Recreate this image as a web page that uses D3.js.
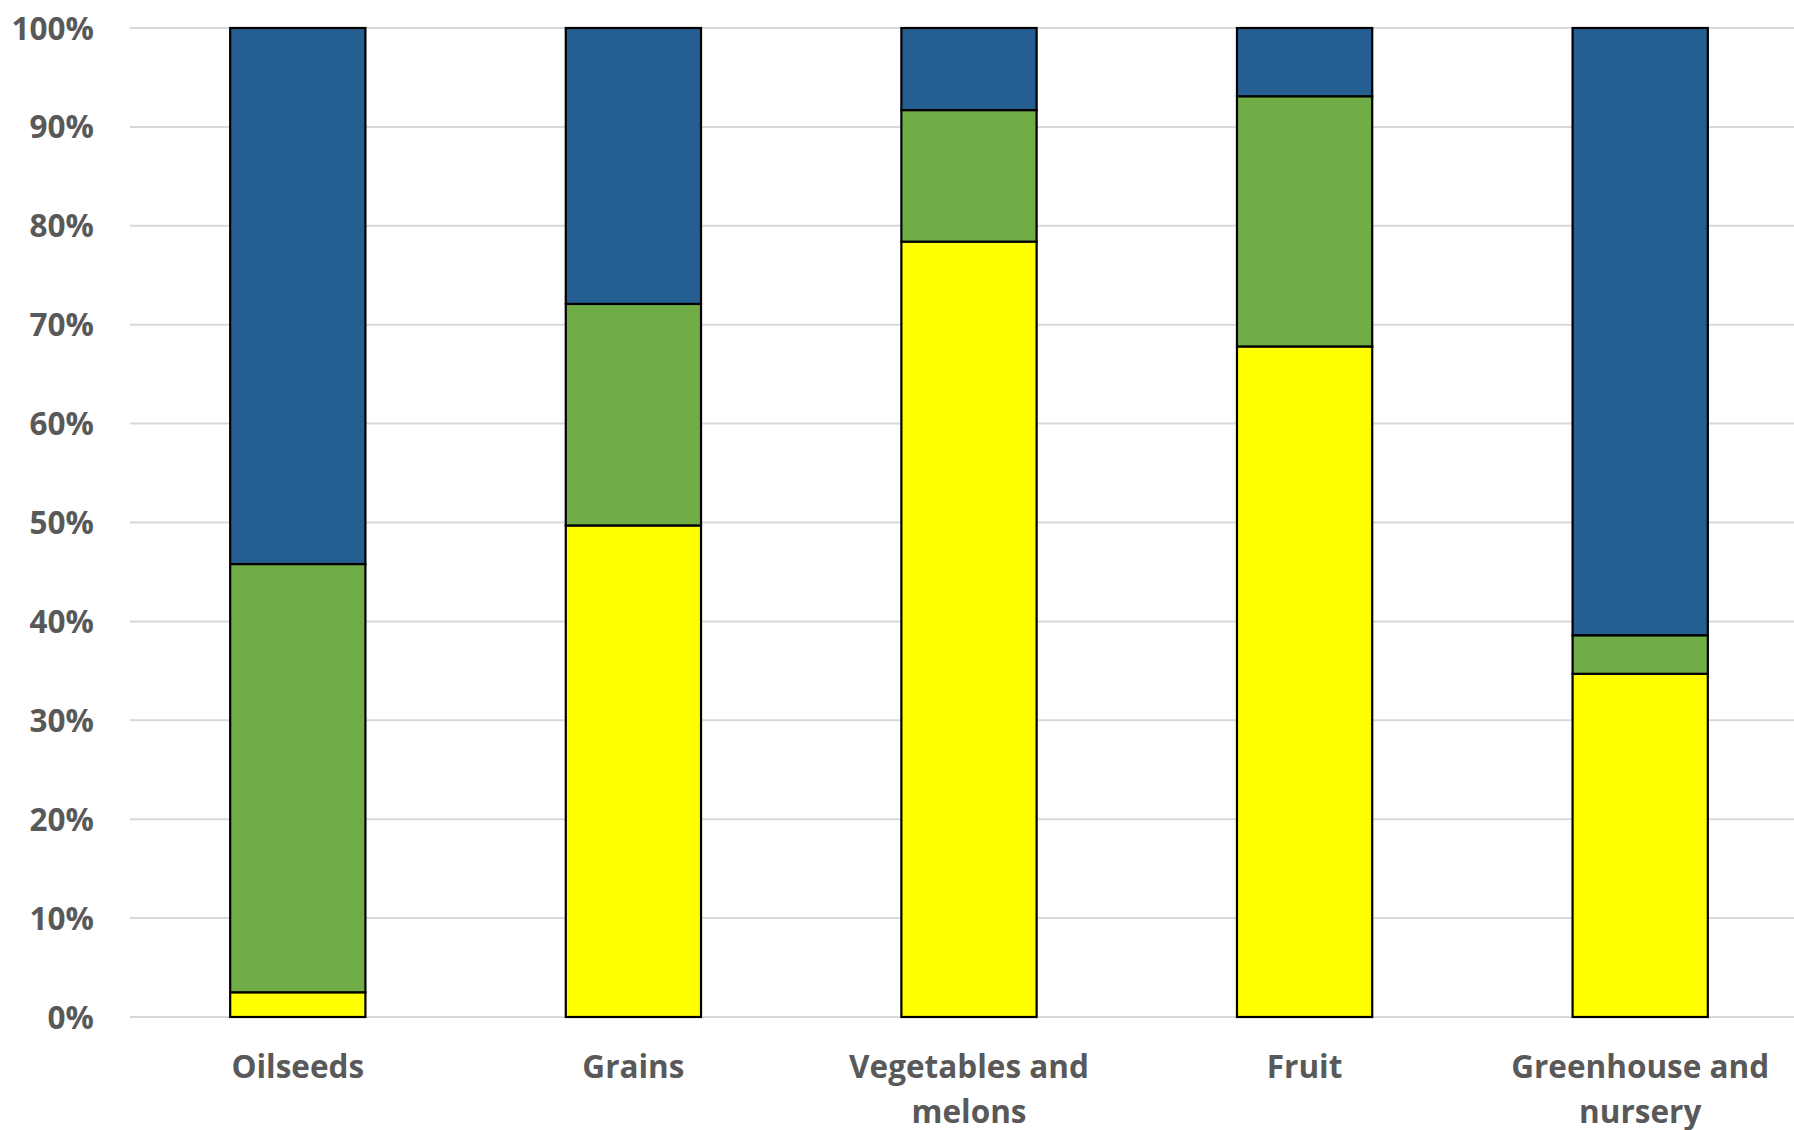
<!DOCTYPE html>
<html>
<head>
<meta charset="utf-8">
<script src="https://cdn.jsdelivr.net/npm/d3@7"></script>
<style>
  html, body { margin: 0; padding: 0; background: #fff; overflow: hidden; }
  svg { display: block; }
  text { font-family: "Open Sans", "DejaVu Sans", sans-serif; font-weight: 700; fill: #595959; }
</style>
</head>
<body>
<svg id="chart" width="1794" height="1130"></svg>
<script>
// Crop categories (each line of a label is a separate entry)
const categories = ["Oilseeds", "Grains", "Vegetables and melons", "Fruit", "Greenhouse and nursery"];
const categoryLines = [["Oilseeds"], ["Grains"], ["Vegetables and", "melons"], ["Fruit"], ["Greenhouse and", "nursery"]];

// Share of each crop group (percent), stacked bottom to top
const seriesNames = ["Yellow", "Green", "Blue"];
const yellowShare = [2.5, 49.7, 78.4, 67.8, 34.7];
const greenShare  = [43.3, 22.4, 13.3, 25.3, 3.9];
const blueShare   = [54.2, 27.9, 8.3, 6.9, 61.4];

const yTicks = [0, 10, 20, 30, 40, 50, 60, 70, 80, 90, 100];
const colors = ["#FFFF00", "#70AD47", "#255E91"];

const svg = d3.select("#chart");
const margin = { left: 130, right: -14, top: 28, bottom: 113 };
const W = 1794, H = 1130;

const x = d3.scaleBand()
  .domain(categories)
  .range([margin.left, W - margin.right])
  .padding(0);
const barW = x.bandwidth() * 0.403;

const y = d3.scaleLinear()
  .domain([0, 100])
  .range([H - margin.bottom, margin.top]);

// Gridlines
svg.append("g")
  .selectAll("line")
  .data(yTicks)
  .join("line")
  .attr("x1", margin.left)
  .attr("x2", W - margin.right)
  .attr("y1", d => y(d))
  .attr("y2", d => y(d))
  .attr("stroke", "#d9d9d9")
  .attr("stroke-width", 2);

// Y axis labels
const yAxis = d3.axisLeft(y).tickValues(yTicks).tickFormat(d => d + "%").tickSize(0).tickPadding(0);
const yg = svg.append("g").attr("transform", `translate(${margin.left - 36},0)`).call(yAxis);
yg.select(".domain").remove();
yg.selectAll("text")
  .attr("font-size", 31.5)
  .attr("font-family", null)
  .attr("fill", "#595959")
  .attr("dy", "0.35em");

// Stacked bars
const rows = categories.map((c, i) => ({
  cat: c, Yellow: yellowShare[i], Green: greenShare[i], Blue: blueShare[i]
}));
const stacked = d3.stack().keys(seriesNames)(rows);

svg.append("g")
  .selectAll("g")
  .data(stacked)
  .join("g")
  .attr("fill", (d, i) => colors[i])
  .selectAll("rect")
  .data(d => d)
  .join("rect")
  .attr("x", d => x(d.data.cat) + (x.bandwidth() - barW) / 2)
  .attr("width", barW)
  .attr("y", d => y(d[1]))
  .attr("height", d => y(d[0]) - y(d[1]))
  .attr("stroke", "#000")
  .attr("stroke-width", 2.2);

// Category labels
const labels = svg.append("g")
  .selectAll("text")
  .data(categories)
  .join("text")
  .attr("x", d => x(d) + x.bandwidth() / 2)
  .attr("y", 1078)
  .attr("text-anchor", "middle")
  .attr("font-size", 31.5);
labels.each(function(d, i) {
  d3.select(this).selectAll("tspan")
    .data(categoryLines[i])
    .join("tspan")
    .attr("x", x(d) + x.bandwidth() / 2)
    .attr("dy", (t, j) => j === 0 ? 0 : 45)
    .text(t => t);
});
</script>
</body>
</html>
